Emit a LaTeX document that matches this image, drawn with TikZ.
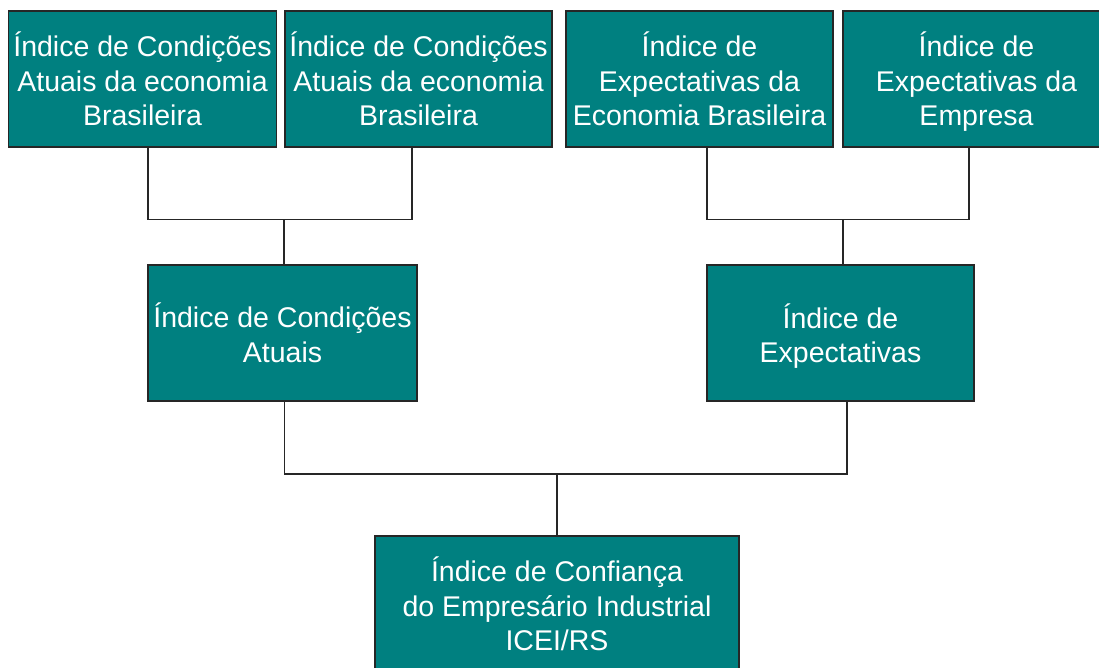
\documentclass[tikz,border=0pt]{standalone}
\usepackage{fontspec}
\setmainfont{Liberation Sans}
\definecolor{boxteal}{RGB}{0,128,128}
\begin{document}
\begin{tikzpicture}[x=1pt,y=-1pt,
  ibox/.style={rectangle, fill=boxteal, draw=black!85, line width=1.4pt,
    text=white, align=center, inner sep=0pt, minimum height=136pt,
    font=\fontsize{28.5}{34.5}\selectfont},
  conn/.style={draw=black!85, line width=1.1pt}]
\useasboundingbox (0,0) rectangle (1099,667);
% top row
\node[ibox, minimum width=268pt] (b1) at (142.5,79) {Índice de Condições\\Atuais da economia\\Brasileira};
\node[ibox, minimum width=267pt] (b2) at (418.5,79) {Índice de Condições\\Atuais da economia\\Brasileira};
\node[ibox, minimum width=267pt] (b3) at (699.5,79) {Índice de\\Expectativas da\\Economia Brasileira};
\node[ibox, minimum width=267pt] (b4) at (976.5,79) {Índice de\\Expectativas da\\\smash{Empresa}};
% middle row
\node[ibox, minimum width=269pt] (b5) at (282.5,333) {Índice de Condições\\Atuais};
\node[ibox, minimum width=267pt] (b6) at (840.5,333) {Índice de\\\smash{Expectativas}};
% bottom
\node[ibox, minimum width=364pt] (b7) at (557,604) {Índice de Confiança\\do Empresário Industrial\\\smash{ICEI/RS}};
% junctions
\coordinate (jL) at (284,219.5);
\coordinate (jR) at (843,219.5);
\coordinate (jB) at (557,474);
% connectors
\draw[conn] ([xshift=5.5pt]b1.south) |- (jL) -| ([xshift=-6.5pt]b2.south);
\draw[conn] (jL) -- (jL |- b5.north);
\draw[conn] ([xshift=7.5pt]b3.south) |- (jR) -| ([xshift=-7.5pt]b4.south);
\draw[conn] (jR) -- (jR |- b6.north);
\draw[conn] ([xshift=2pt]b5.south) |- (jB) -| ([xshift=6.5pt]b6.south);
\draw[conn] (jB) -- (b7.north);
\end{tikzpicture}
\end{document}
